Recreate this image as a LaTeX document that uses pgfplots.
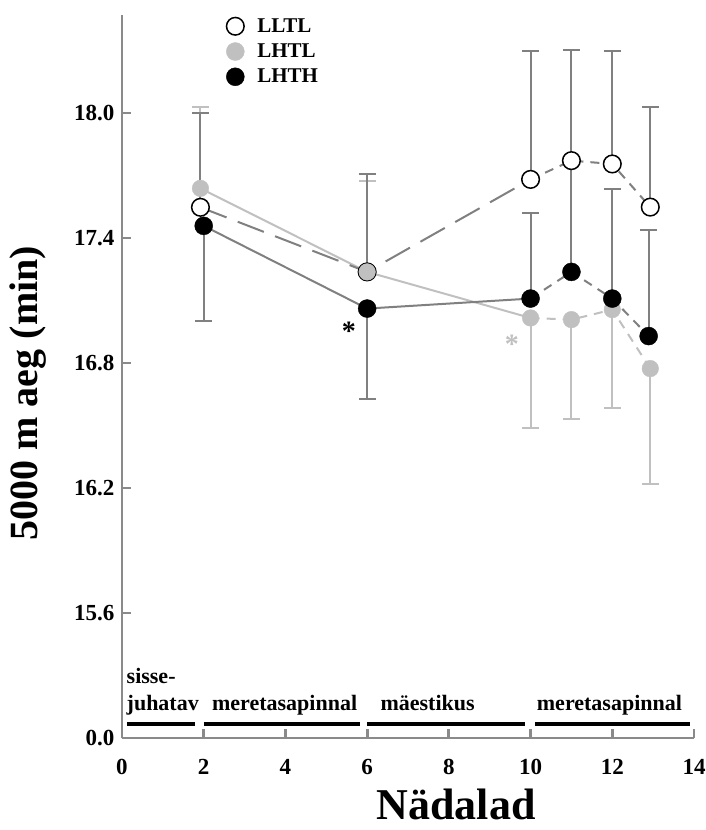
\documentclass[border=0pt]{standalone}
\usepackage{fontspec}
\setmainfont{Liberation Serif}
\usepackage{pgfplots}
\pgfplotsset{compat=1.18}
\definecolor{dg}{HTML}{808080}
\definecolor{lg}{HTML}{C0C0C0}
\definecolor{axg}{HTML}{8A8A8A}
\pgfplotsset{
  ebdark/.style={forget plot, draw=none, line width=2pt, mark=none,
    error bars/y explicit,
    error bars/error bar style={draw=dg, line width=2pt},
    error bars/error mark options={draw=dg, line width=2pt, mark size=8.5pt, rotate=90}},
  eblight/.style={forget plot, draw=none, line width=2pt, mark=none,
    error bars/y explicit,
    error bars/error bar style={draw=lg, line width=2pt},
    error bars/error mark options={draw=lg, line width=2pt, mark size=8.5pt, rotate=90}},
}
\begin{document}
\begin{tikzpicture}[x=1pt,y=1pt]
\path[use as bounding box] (-122,-92) rectangle (584,738);
\begin{axis}[
  at={(0,0)}, anchor=south west,
  scale only axis, width=572pt, height=723pt,
  xmin=0, xmax=14, ymin=15, ymax=18.47,
  clip=false,
  axis lines=left,
  axis line style={-, draw=axg, line width=2.8pt},
  xtick={0,2,...,14},
  ytick={15,15.6,16.2,16.8,17.4,18},
  yticklabels={0.0,15.6,16.2,16.8,17.4,18.0},
  tick align=inside,
  major tick length=9pt,
  tick style={draw=axg, line width=2.8pt},
  /pgf/number format/assume math mode=true,
  tick label style={font=\fontsize{23}{23}\selectfont\bfseries},
  yticklabel style={xshift=-4pt},
  xticklabel style={yshift=-18pt},
  xlabel={Nädalad},
  ylabel={5000 m aeg (min)},
  xlabel style={at={(axis description cs:0.584,-0.092)}, anchor=center, inner sep=0pt, font=\fontsize{44}{44}\selectfont\bfseries},
  ylabel style={at={(axis description cs:-0.164,0.477)}, anchor=center, inner sep=0pt, font=\fontsize{40}{40}\selectfont\bfseries},
  legend style={at={(axis description cs:0.182,0.998)}, anchor=north west, draw=none, fill=none,
    font=\fontsize{21}{21}\selectfont\bfseries, row sep=6pt, inner sep=0pt},
  legend cell align=left,
]
\addlegendimage{only marks, mark=*, mark size=8.8pt, mark options={fill=white, draw=black, line width=1.5pt}}
\addlegendentry{\hspace{11pt}LLTL}
\addlegendimage{only marks, mark=*, mark size=9pt, mark options={fill=lg, draw=lg}}
\addlegendentry{\hspace{11pt}LHTL}
\addlegendimage{only marks, mark=*, mark size=9pt, mark options={fill=black, draw=black}}
\addlegendentry{\hspace{11pt}LHTH}

% phase bars
\addplot[forget plot, black, line width=4pt] coordinates {(0.12,15.069) (1.78,15.069)};
\addplot[forget plot, black, line width=4pt] coordinates {(2.0,15.069) (5.82,15.069)};
\addplot[forget plot, black, line width=4pt] coordinates {(6.0,15.069) (9.86,15.069)};
\addplot[forget plot, black, line width=4pt] coordinates {(10.12,15.069) (13.89,15.069)};

% error bars: LHTL (light)
\addplot[eblight, error bars/y dir=plus]
  coordinates {(1.92,17.638) +- (0,0.39) (6,17.237) +- (0,0.436)};
\addplot[eblight, error bars/y dir=minus]
  coordinates {(10,17.016) +- (0,0.527) (11,17.008) +- (0,0.479) (12,17.056) +- (0,0.474) (12.93,16.773) +- (0,0.553)};
% error bars: LLTL (dark)
\addplot[ebdark, error bars/y dir=plus]
  coordinates {(1.92,17.547) +- (0,0.453) (6,17.237) +- (0,0.468) (10,17.681) +- (0,0.617) (11,17.771) +- (0,0.53) (12,17.755) +- (0,0.54) (12.93,17.548) +- (0,0.482)};
% error bars: LHTH (dark)
\addplot[ebdark, error bars/y dir=minus]
  coordinates {(2,17.458) +- (0,0.458) (6,17.061) +- (0,0.436)};
\addplot[ebdark, error bars/y dir=plus]
  coordinates {(10,17.109) +- (0,0.409) (12,17.109) +- (0,0.527) (12.89,16.929) +- (0,0.511)};
\addplot[forget plot, dg, line width=2pt] coordinates {(11,17.237) (11,17.771)};

% lines
\addplot[forget plot, lg, line width=2pt] coordinates {(1.92,17.638) (6,17.237) (10,17.016)};
\addplot[forget plot, lg, line width=2pt, dash pattern=on 9pt off 7pt] coordinates {(10,17.016) (11,17.008) (12,17.056) (12.93,16.773)};
\addplot[forget plot, dg, line width=2pt, dash pattern=on 28pt off 12pt] coordinates {(1.92,17.547) (6,17.237) (10,17.681)};
\addplot[forget plot, dg, line width=2pt, dash pattern=on 9pt off 7pt] coordinates {(10,17.681) (11,17.771) (12,17.755) (12.93,17.548)};
\addplot[forget plot, dg, line width=2pt] coordinates {(2,17.458) (6,17.061) (10,17.109)};
\addplot[forget plot, dg, line width=2pt, dash pattern=on 9pt off 7pt] coordinates {(10,17.109) (11,17.237) (12,17.109) (12.89,16.929)};

% markers
\addplot[forget plot, only marks, mark=*, mark size=8.8pt, mark options={fill=white, draw=black, line width=1.5pt}]
  coordinates {(1.92,17.547) (6,17.237) (10,17.681) (11,17.771) (12,17.755) (12.93,17.548)};
\addplot[forget plot, only marks, mark=*, mark size=8.3pt, mark options={fill=lg, draw=lg}]
  coordinates {(1.92,17.638) (6,17.237) (10,17.016) (11,17.008) (12,17.056) (12.93,16.773)};
\addplot[forget plot, only marks, mark=*, mark size=9pt, mark options={fill=black, draw=black}]
  coordinates {(2,17.458) (6,17.061) (10,17.109) (11,17.237) (12,17.109) (12.89,16.929)};

% asterisks
\node[font=\fontsize{28}{28}\selectfont\bfseries, black] at (axis cs:5.55,16.95) {*};
\node[font=\fontsize{28}{28}\selectfont\bfseries, lg] at (axis cs:9.54,16.89) {*};

% phase labels
\node[anchor=base west, inner sep=0pt, font=\fontsize{22}{22}\selectfont\bfseries] at (axis cs:0.11,15.260) {sisse-};
\node[anchor=base west, inner sep=0pt, font=\fontsize{22}{22}\selectfont\bfseries] at (axis cs:0.11,15.130) {juhatav};
\node[anchor=base, inner sep=0pt, font=\fontsize{22}{22}\selectfont\bfseries] at (axis cs:3.98,15.130) {meretasapinnal};
\node[anchor=base, inner sep=0pt, font=\fontsize{22}{22}\selectfont\bfseries] at (axis cs:7.48,15.130) {mäestikus};
\node[anchor=base, inner sep=0pt, font=\fontsize{22}{22}\selectfont\bfseries] at (axis cs:11.93,15.130) {meretasapinnal};
\end{axis}
\end{tikzpicture}
\end{document}
